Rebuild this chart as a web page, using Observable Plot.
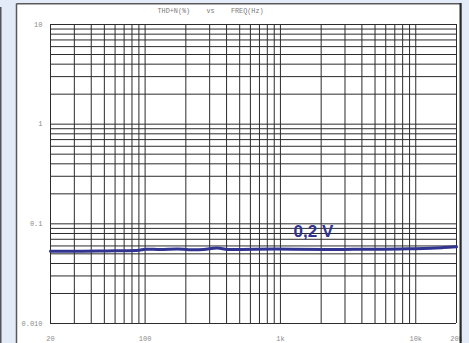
<!DOCTYPE html>
<html>
<head>
<meta charset="utf-8">
<script src="https://cdn.jsdelivr.net/npm/d3@7"></script>
<script src="https://cdn.jsdelivr.net/npm/@observablehq/plot@0.6"></script>
<style>
  html, body { margin: 0; padding: 0; background: #e2ebf7; }
  svg text { white-space: pre; }
</style>
</head>
<body>
<div id="chart"></div>
<script>
// THD+N versus frequency at 0.2 V output
const freq = [20, 30, 45, 60, 90, 100, 130, 175, 210, 270, 340, 410, 630, 1250, 2200, 3500, 5800, 8700, 12900, 16000, 20000];
const thdn = [0.0532, 0.0530, 0.0533, 0.0536, 0.0543, 0.0556, 0.0553, 0.0560, 0.0550, 0.0553, 0.0572, 0.0553, 0.0557, 0.0557, 0.0553, 0.0555, 0.0557, 0.0561, 0.0570, 0.0578, 0.0588];

// grid lines: every 1..9 step of each decade
const xGrid = [20, 30, 40, 50, 60, 70, 80, 90, 100, 200, 300, 400, 500, 600, 700, 800, 900,
               1000, 2000, 3000, 4000, 5000, 6000, 7000, 8000, 9000, 10000, 20000];
const yGrid = [0.01, 0.02, 0.03, 0.04, 0.05, 0.06, 0.07, 0.08, 0.09,
               0.1, 0.2, 0.3, 0.4, 0.5, 0.6, 0.7, 0.8, 0.9,
               1, 2, 3, 4, 5, 6, 7, 8, 9, 10];

// axis tick values and their printed labels
const xTicks = [20, 100, 1000, 10000, 20000];
const xTickLabels = ["20", "100", "1k", "10k", "20k"];
const yTicks = [10, 1, 0.1, 0.01];
const yTickLabels = ["10", "1", "0.1", "0.010"];

const title = "THD+N(%)    vs    FREQ(Hz)";
const seriesLabel = "0,2 V";
const labelAt = {f: 1250, v: 0.074};

const data = freq.map((f, i) => ({f, v: thdn[i]}));
const xLabels = xTicks.map((t, i) => ({t, s: xTickLabels[i]}));
const yLabels = yTicks.map((t, i) => ({t, s: yTickLabels[i]}));

const mono = "'Liberation Mono', 'DejaVu Sans Mono', monospace";
const gridColor = "#2c2c2c";
const blue = "#30338f";
const tickColor = "#8a8a8a";

const chart = Plot.plot({
  width: 469,
  height: 343,
  marginLeft: 50,
  marginRight: 13,
  marginTop: 24,
  marginBottom: 20,
  style: {background: "transparent", overflow: "visible"},
  x: {type: "log", domain: [20, 20000], axis: null},
  y: {type: "log", domain: [0.01, 10], axis: null},
  marks: [
    Plot.ruleX(xGrid, {stroke: gridColor, strokeWidth: 1}),
    Plot.ruleY(yGrid, {stroke: gridColor, strokeWidth: 1}),
    Plot.line(data, {x: "f", y: "v", stroke: blue, strokeWidth: 3, curve: "catmull-rom"}),
    Plot.text([labelAt], {
      x: "f", y: "v", text: () => seriesLabel,
      textAnchor: "start", lineAnchor: "bottom",
      fill: blue, fontSize: 17, fontWeight: "bold",
      fontFamily: "'Liberation Sans', Arial, sans-serif"
    }),
    // frequency labels under the frame
    Plot.text(xLabels, {
      x: "t", text: "s", frameAnchor: "bottom", dy: 15.5,
      textAnchor: "middle", lineAnchor: "middle",
      fontSize: 7, fontFamily: mono, fill: tickColor
    }),
    // THD+N labels left of the frame
    Plot.text(yLabels, {
      y: "t", text: "s", frameAnchor: "left", dx: -8,
      textAnchor: "end", lineAnchor: "middle",
      fontSize: 7, fontFamily: mono, fill: tickColor
    }),
    Plot.text([title], {
      frameAnchor: "top-left", dx: 107, dy: -14,
      textAnchor: "start", lineAnchor: "middle",
      fontSize: 6.8, fontFamily: mono, fill: "#7a7a7a"
    })
  ]
});

// white sheet behind the chart, with its frame on top
const svg = d3.select(chart);
svg.insert("rect", ":first-child")
  .attr("x", 16.5).attr("y", 3.5).attr("width", 444).attr("height", 345)
  .attr("fill", "#ffffff");
svg.append("rect").attr("x", 0).attr("y", 0).attr("width", 16).attr("height", 343).attr("fill", "#e2ebf7");
svg.append("rect").attr("x", 462).attr("y", 0).attr("width", 7).attr("height", 343).attr("fill", "#e2ebf7");
svg.append("rect").attr("x", 0).attr("y", 7).attr("width", 1.5).attr("height", 336).attr("fill", "#555");
svg.append("line").attr("x1", 16.5).attr("x2", 16.5).attr("y1", 3.5).attr("y2", 343)
  .attr("stroke", "#5a5a5a").attr("stroke-width", 1.5);
svg.append("line").attr("x1", 16.5).attr("x2", 461).attr("y1", 3.8).attr("y2", 3.8)
  .attr("stroke", "#5a5a5a").attr("stroke-width", 1.5);
svg.append("line").attr("x1", 460.6).attr("x2", 460.6).attr("y1", 3).attr("y2", 343)
  .attr("stroke", "#2a2a2a").attr("stroke-width", 2.2);

document.getElementById("chart").append(chart);
</script>
</body>
</html>
